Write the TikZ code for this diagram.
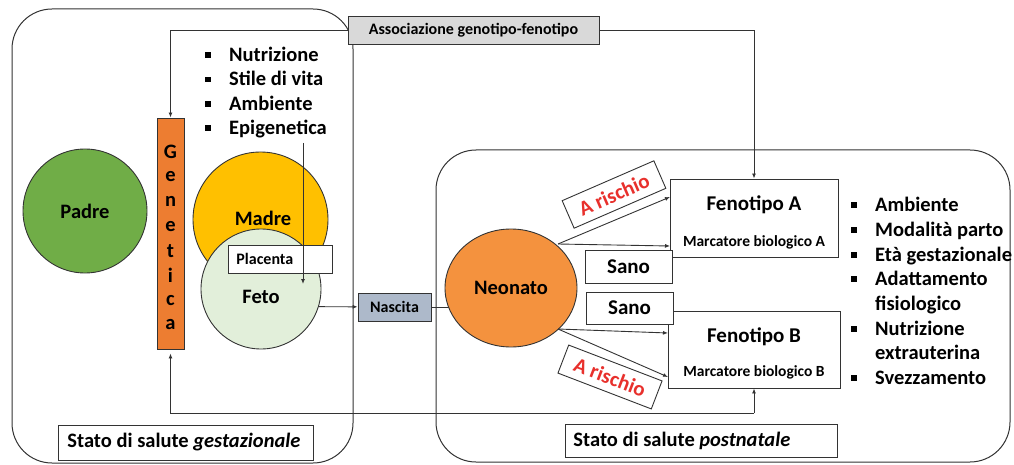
\documentclass[tikz,border=0pt]{standalone}
\usepackage{fontspec}
\setmainfont{Carlito}
\usetikzlibrary{arrows.meta,shapes.geometric,calc}
\definecolor{padreG}{HTML}{70AD47}
\definecolor{madreY}{HTML}{FFC000}
\definecolor{fetoG}{HTML}{E2EFDA}
\definecolor{genO}{HTML}{ED7D31}
\definecolor{neoO}{HTML}{F4923E}
\definecolor{nascB}{HTML}{ADB9CA}
\definecolor{assocG}{HTML}{D9D9D9}
\definecolor{riskR}{HTML}{E8302C}
\definecolor{linec}{HTML}{333333}
\newcommand\mybul{\makebox[24pt][l]{\rule[0.17em]{0.28em}{0.28em}}}
\newcommand\mynob{\hspace*{24pt}}
\begin{document}
\begin{tikzpicture}[x=1pt,y=-1pt,
  every node/.style={font=\bfseries, text=black},
  big/.style={font=\bfseries\fontsize{20.5}{24}\selectfont},
  small/.style={font=\bfseries\fontsize{16}{19}\selectfont},
  marc/.style={font=\bfseries\fontsize{15.5}{18}\selectfont},
  panel/.style={draw=linec, line width=1pt, rounded corners=40pt},
  box/.style={draw=linec, line width=0.9pt, fill=white},
  circ/.style={circle, draw=linec, line width=0.9pt, inner sep=0pt},
  arr/.style={-{Latex[length=5pt,width=4pt]}, line width=0.9pt, draw=linec},
  risk/.style={box, text=riskR, inner sep=0pt, minimum width=100pt, minimum height=30pt, font=\bfseries\fontsize{21}{24}\selectfont},
  lst/.style={anchor=base west, inner sep=0pt, font=\bfseries\fontsize{20.5}{24}\selectfont},
  gl/.style={inner sep=0pt, font=\bfseries\fontsize{20.5}{24}\selectfont},
  stato/.style={box, big, anchor=west, inner ysep=0pt}
]
\useasboundingbox (0,0) rectangle (1014,465);

% panels
\node[panel, minimum width=341pt, minimum height=454pt] (gest) at (182.5,236) {};
\node[panel, minimum width=574pt, minimum height=312pt] (post) at (723,306) {};

% top box
\node[box, fill=assocG, small, minimum width=251pt, minimum height=28pt, inner sep=0pt] (assoc) at (473.5,30.5) {Associazione genotipo-fenotipo};

% Genetica bar
\node[draw=linec, line width=0.9pt, fill=genO, minimum width=27pt, minimum height=231pt, inner sep=0pt] (gen) at (170.5,233.5) {};
\foreach \l [count=\i from 0] in {G,e,n,e,t,i,c,a}
  \node[gl] (gl\i) at (170.5,{152+24.7*\i}) {\l};

% circles
\node[circ, fill=padreG, minimum size=124pt, big] (padre) at (85,211) {Padre};
\node[circ, fill=madreY, minimum size=135pt] (madre) at (260.5,219.5) {};
\node[big] (madret) at (263,218) {Madre};
\node[circ, fill=fetoG, minimum size=120pt] (feto) at (261,289) {};
\node[big] (fetot) at (261,297) {Feto};

% placenta
\node[box, small, anchor=west, inner xsep=8pt, inner ysep=0pt, minimum height=28pt] (plac) at (228,259) {\makebox[88pt][l]{Placenta}};

% left list
\foreach \t [count=\i from 0] in {Nutrizione,Stile di vita,Ambiente,Epigenetica}
  \node[lst] (ll\i) at (205,{61.7+24.17*\i}) {\mybul\t};

\coordinate (epiS) at (303,143);
\coordinate (epiE) at (303,284);
\draw[arr] (epiS) -- (epiE);

% Nascita
\node[box, fill=nascB, small, minimum width=73pt, minimum height=28pt, inner sep=0pt] (nasc) at (394.5,307) {Nascita};
\draw[arr] (feto.-17.5) -- (nasc);
\coordinate (neoIn) at (466,307);
\draw[arr] (nasc.east) -- (neoIn);

% Neonato
\node[ellipse, draw=linec, line width=0.9pt, fill=neoO, minimum width=132pt, minimum height=118pt, inner sep=0pt, big] (neo) at (511,288) {Neonato};

% Fenotipo boxes
\node[box, minimum width=168pt, minimum height=78pt] (fenA) at (754,218) {};
\node[font=\bfseries\fontsize{21}{24}\selectfont] (fenAt) at (754,205) {Fenotipo A};
\node[marc] (fenAm) at (754,242) {Marcatore biologico A};
\node[box, minimum width=172pt, minimum height=77pt] (fenB) at (754,349.5) {};
\node[font=\bfseries\fontsize{21}{24}\selectfont] (fenBt) at (754,337) {Fenotipo B};
\node[marc] (fenBm) at (754,372) {Marcatore biologico B};

% Sano boxes
\node[box, minimum width=87pt, minimum height=33pt, inner sep=0pt, font=\bfseries\fontsize{21}{24}\selectfont] (sano1) at (628.5,266.5) {Sano};
\node[box, minimum width=87pt, minimum height=32pt, inner sep=0pt, font=\bfseries\fontsize{21}{24}\selectfont] (sano2) at (629.5,308) {Sano};

% arrows from Neonato
\coordinate (s1) at (558,244);
\coordinate (s2) at (558,329);
\coordinate (a1) at (670,197);
\coordinate (a2) at (670,246);
\coordinate (b1) at (668,333);
\coordinate (b2) at (668,377);
\draw[arr] (s1) -- (a1);
\draw[arr] (s1) -- (a2);
\draw[arr] (s2) -- (b1);
\draw[arr] (s2) -- (b2);

\node[risk, rotate=23.5] (risk1) at (614,194.5) {A rischio};
\node[risk, rotate=-21] (risk2) at (610,377) {A rischio};

% right list
\foreach \t [count=\i from 0] in {\mybul Ambiente,\mybul Modalità parto,\mybul Età gestazionale,\mybul Adattamento,\mynob fisiologico,\mybul Nutrizione,\mynob extrauterina,\mybul Svezzamento}
  \node[lst] (rl\i) at (851,{211.7+24.66*\i}) {\t};

% top connectors
\draw[arr] (assoc.west) -| (gen.north);
\draw[arr] (assoc.east) -| (fenA.north);

% feedback connectors
\coordinate (fb) at (754,413);
\draw[arr] (fb) -- (fenB.south);
\draw[arr] (fb) -| ($(gen.south)+(0,4)$);

% Stato boxes
\node[stato, inner xsep=9pt, minimum height=35pt] (sg) at (58,442.5) {\makebox[237pt][l]{Stato di salute \textit{gestazionale}}};
\node[stato, inner xsep=8pt, minimum height=33pt] (sp) at (565,440.5) {\makebox[256pt][l]{Stato di salute \textit{postnatale}}};
\end{tikzpicture}
\end{document}
